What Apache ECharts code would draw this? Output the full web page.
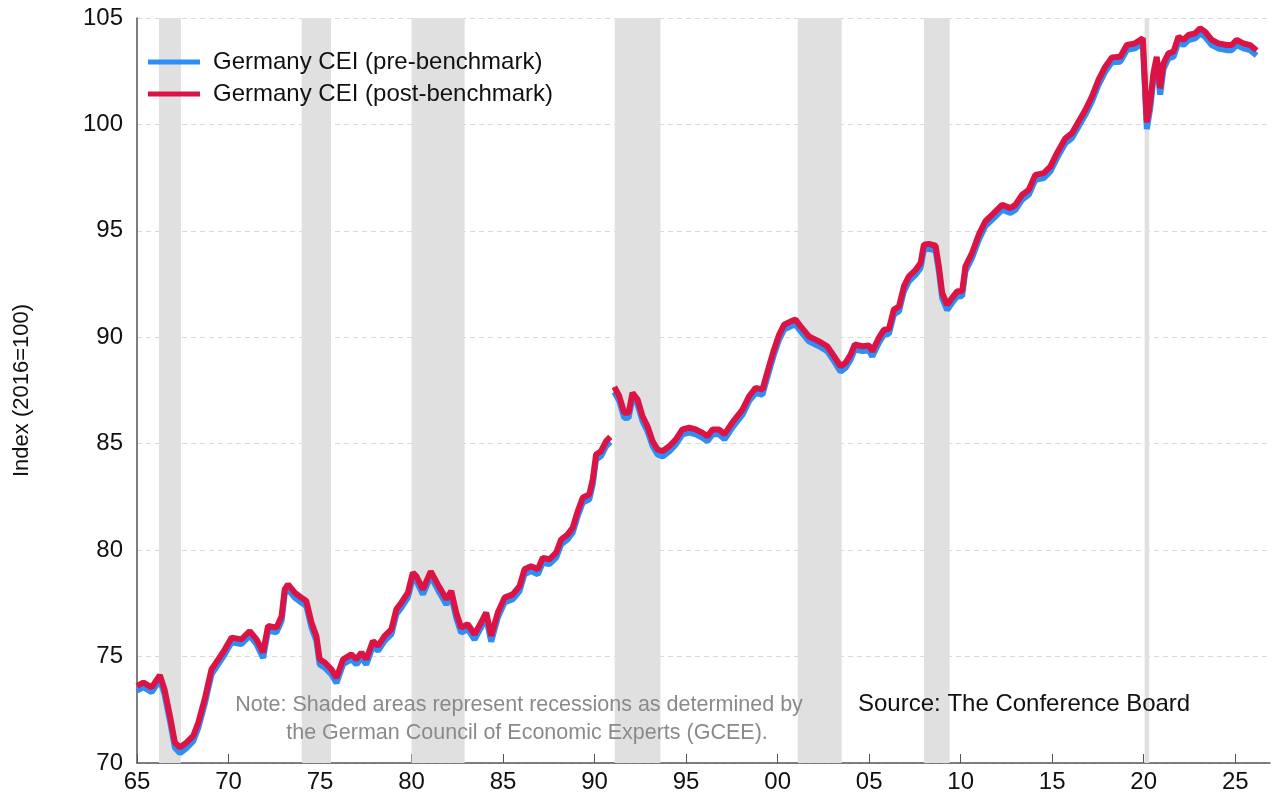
<!DOCTYPE html>
<html>
<head>
<meta charset="utf-8">
<script src="https://cdn.jsdelivr.net/npm/echarts@6/dist/echarts.min.js"></script>
<style>
  html, body { margin: 0; padding: 0; background: #fff; }
  #chart { width: 1272px; height: 804px; }
</style>
</head>
<body>
<div id="chart"></div>
<script>
// time points (decimal years)
var dates = [
  1965.00, 1965.35, 1965.80, 1966.25, 1966.50, 1966.80, 1967.07, 1967.35, 1967.70, 1968.07,
  1968.35, 1968.70, 1969.07, 1969.44, 1969.80, 1970.17, 1970.70, 1971.16, 1971.53, 1971.89,
  1972.16, 1972.62, 1972.90, 1973.07, 1973.25, 1973.62, 1973.98, 1974.25, 1974.53, 1974.80,
  1974.98, 1975.26, 1975.62, 1975.90, 1976.26, 1976.71, 1976.99, 1977.26, 1977.53, 1977.89,
  1978.17, 1978.53, 1978.90, 1979.17, 1979.44, 1979.80, 1980.07, 1980.26, 1980.62, 1981.05,
  1981.53, 1981.90, 1982.17, 1982.44, 1982.71, 1983.07, 1983.44, 1983.80, 1984.08, 1984.35,
  1984.71, 1985.08, 1985.53, 1985.90, 1986.17, 1986.53, 1986.90, 1987.17, 1987.53, 1987.90,
  1988.17, 1988.53, 1988.80, 1989.08, 1989.35, 1989.71, 1989.90, 1990.08, 1990.35, 1990.63,
  1990.86, 1990.97, 1991.08, 1991.35, 1991.62, 1991.86, 1992.07, 1992.35, 1992.62, 1992.89,
  1993.17, 1993.44, 1993.71, 1994.08, 1994.44, 1994.80, 1995.17, 1995.53, 1995.90, 1996.17,
  1996.44, 1996.80, 1997.10, 1997.53, 1998.08, 1998.44, 1998.80, 1999.17, 1999.53, 1999.80,
  2000.08, 2000.35, 2000.72, 2000.98, 2001.26, 2001.71, 2002.26, 2002.71, 2003.08, 2003.44,
  2003.71, 2003.99, 2004.22, 2004.62, 2004.99, 2005.17, 2005.53, 2005.81, 2006.08, 2006.35,
  2006.63, 2006.90, 2007.17, 2007.54, 2007.81, 2007.99, 2008.26, 2008.63, 2008.81, 2008.99,
  2009.26, 2009.53, 2009.81, 2010.08, 2010.26, 2010.62, 2010.99, 2011.35, 2011.81, 2012.26,
  2012.72, 2012.99, 2013.35, 2013.72, 2014.08, 2014.54, 2014.90, 2015.26, 2015.72, 2016.08,
  2016.44, 2016.81, 2017.17, 2017.53, 2017.90, 2018.26, 2018.72, 2019.08, 2019.53, 2019.95,
  2020.17, 2020.35, 2020.53, 2020.71, 2020.90, 2021.08, 2021.35, 2021.63, 2021.90, 2022.17,
  2022.45, 2022.81, 2023.08, 2023.35, 2023.72, 2024.08, 2024.54, 2024.81, 2025.08, 2025.45,
  2025.81, 2026.17
];

// Germany CEI (post-benchmark)
var postBench = [
  73.62, 73.78, 73.55, 74.12, 73.47, 72.20, 70.96, 70.73, 70.96, 71.27,
  71.90, 73.00, 74.40, 74.87, 75.34, 75.89, 75.81, 76.20, 75.81, 75.19,
  76.44, 76.36, 76.90, 78.16, 78.39, 78.00, 77.77, 77.61, 76.60, 75.97,
  74.87, 74.72, 74.40, 74.01, 74.87, 75.10, 74.87, 75.19, 74.87, 75.73,
  75.50, 75.97, 76.28, 77.22, 77.53, 78.00, 78.94, 78.78, 78.16, 79.00,
  78.24, 77.69, 78.08, 77.06, 76.36, 76.52, 76.05, 76.60, 77.06, 75.97,
  77.06, 77.77, 77.92, 78.31, 79.10, 79.25, 79.10, 79.64, 79.57, 79.88,
  80.50, 80.74, 81.05, 81.83, 82.46, 82.62, 83.32, 84.49, 84.65, 85.12,
  85.32, null, 87.67, 87.23, 86.45, 86.45, 87.39, 87.07, 86.29, 85.82,
  85.12, 84.73, 84.65, 84.88, 85.20, 85.67, 85.75, 85.67, 85.51, 85.35,
  85.67, 85.67, 85.45, 86.00, 86.60, 87.23, 87.62, 87.54, 88.64, 89.42,
  90.12, 90.59, 90.75, 90.83, 90.51, 90.04, 89.81, 89.58, 89.11, 88.64,
  88.80, 89.19, 89.66, 89.58, 89.61, 89.34, 89.97, 90.36, 90.39, 91.30,
  91.45, 92.39, 92.86, 93.17, 93.49, 94.35, 94.39, 94.30, 93.33, 92.08,
  91.53, 91.85, 92.16, 92.16, 93.33, 93.96, 94.82, 95.45, 95.83, 96.22,
  96.07, 96.22, 96.69, 96.93, 97.63, 97.71, 98.02, 98.65, 99.35, 99.59,
  100.13, 100.68, 101.31, 102.09, 102.71, 103.15, 103.18, 103.73, 103.81, 104.05,
  100.10, 101.00, 102.40, 103.18, 101.70, 102.87, 103.34, 103.42, 104.12, 103.97,
  104.20, 104.28, 104.52, 104.36, 103.97, 103.81, 103.73, 103.73, 103.97, 103.81,
  103.73, 103.47
];

// Germany CEI (pre-benchmark)
var preBench = [
  73.40, 73.56, 73.33, 73.90, 73.25, 71.97, 70.72, 70.46, 70.70, 71.03,
  71.66, 72.77, 74.17, 74.65, 75.12, 75.67, 75.59, 75.98, 75.58, 74.94,
  76.22, 76.14, 76.68, 77.94, 78.16, 77.77, 77.54, 77.38, 76.37, 75.74,
  74.63, 74.48, 74.16, 73.76, 74.64, 74.87, 74.63, 74.96, 74.63, 75.50,
  75.27, 75.74, 76.05, 76.99, 77.30, 77.77, 78.71, 78.55, 77.92, 78.77,
  78.00, 77.45, 77.85, 76.82, 76.12, 76.29, 75.80, 76.37, 76.83, 75.70,
  76.83, 77.54, 77.69, 78.08, 78.87, 79.02, 78.86, 79.41, 79.34, 79.65,
  80.27, 80.51, 80.82, 81.60, 82.23, 82.39, 83.09, 84.26, 84.42, 84.89,
  85.09, null, 87.44, 87.00, 86.21, 86.22, 87.16, 86.84, 86.06, 85.59,
  84.89, 84.49, 84.40, 84.64, 84.97, 85.44, 85.52, 85.44, 85.28, 85.11,
  85.44, 85.44, 85.21, 85.77, 86.37, 87.00, 87.39, 87.30, 88.41, 89.19,
  89.89, 90.36, 90.52, 90.60, 90.28, 89.81, 89.58, 89.35, 88.88, 88.39,
  88.56, 88.96, 89.43, 89.35, 89.38, 89.10, 89.74, 90.13, 90.16, 91.07,
  91.22, 92.16, 92.63, 92.94, 93.26, 94.12, 94.16, 94.07, 93.10, 91.84,
  91.28, 91.61, 91.93, 91.93, 93.10, 93.73, 94.59, 95.22, 95.60, 95.99,
  95.84, 95.99, 96.46, 96.70, 97.40, 97.48, 97.79, 98.42, 99.12, 99.36,
  99.90, 100.45, 101.08, 101.86, 102.48, 102.92, 102.95, 103.50, 103.58, 103.82,
  99.78, 100.72, 102.14, 102.92, 101.40, 102.60, 103.10, 103.18, 103.88, 103.73,
  103.96, 104.04, 104.28, 104.12, 103.73, 103.57, 103.49, 103.49, 103.73, 103.57,
  103.49, 103.24
];

// GCEE recession periods (decimal years)
var recessionStart = [1966.2, 1974.0, 1980.0, 1991.1, 2001.1, 2008.0, 2020.05];
var recessionEnd   = [1967.4, 1975.6, 1982.9, 1993.6, 2003.5, 2009.4, 2020.3];

var yTicks = [70, 75, 80, 85, 90, 95, 100, 105];

var preColor = '#2d8ef7';
var postColor = '#dc1446';
var fontFamily = 'Liberation Sans, Arial, sans-serif';

function pairs(vals) {
  return dates.map(function (t, i) { return [t, vals[i]]; });
}

var recessionAreas = recessionStart.map(function (s, i) {
  return [{ xAxis: s }, { xAxis: recessionEnd[i] }];
});

var myChart = echarts.init(document.getElementById('chart'), null, { renderer: 'canvas' });

var option = {
  backgroundColor: '#ffffff',
  animation: false,
  textStyle: { fontFamily: fontFamily },
  grid: { left: 137, right: 2, top: 18, bottom: 41 },
  legend: {
    left: 148,
    top: 50,
    padding: 0,
    orient: 'vertical',
    itemWidth: 52,
    itemHeight: 5,
    itemGap: 8,
    icon: 'rect',
    textStyle: { fontSize: 24, color: '#111', padding: [0, 0, 0, 8], lineHeight: 24 },
    data: [
      { name: 'Germany CEI (pre-benchmark)', itemStyle: { color: preColor } },
      { name: 'Germany CEI (post-benchmark)', itemStyle: { color: postColor } }
    ]
  },
  xAxis: {
    type: 'value',
    min: 1965,
    max: 2026.9,
    interval: 5,
    axisLine: { show: true, onZero: false, lineStyle: { color: '#555', width: 1.5 } },
    axisTick: { show: true, inside: true, length: 9, lineStyle: { color: '#555', width: 1 } },
    splitLine: { show: false },
    axisLabel: {
      fontSize: 24,
      color: '#111',
      margin: 7,
      showMaxLabel: false,
      formatter: function (v) {
        if (Math.abs(v - Math.round(v)) > 1e-6 || Math.round(v) % 5 !== 0) return '';
        var yy = Math.round(v) % 100;
        return (yy < 10 ? '0' : '') + yy;
      }
    }
  },
  yAxis: {
    type: 'value',
    min: 70,
    max: 105,
    interval: 5,
    name: 'Index (2016=100)',
    nameLocation: 'middle',
    nameGap: 104,
    nameTextStyle: { fontSize: 22, color: '#111' },
    axisLine: { show: true, lineStyle: { color: '#555', width: 1.5 } },
    axisTick: { show: false },
    axisLabel: {
      fontSize: 24,
      color: '#111',
      margin: 14,
      formatter: function (v) { return yTicks.indexOf(v) >= 0 ? String(v) : ''; }
    },
    splitLine: { show: true, lineStyle: { color: '#d9d9d9', type: [5, 4], width: 1 } }
  },
  graphic: [
    {
      type: 'text',
      x: 519,
      y: 694,
      z: 100,
      style: {
        text: 'Note: Shaded areas represent recessions as determined by',
        fontSize: 21.5,
        fill: '#8a8a8a',
        align: 'center',
        fontFamily: fontFamily
      }
    },
    {
      type: 'text',
      x: 527,
      y: 722,
      z: 100,
      style: {
        text: 'the German Council of Economic Experts (GCEE).',
        fontSize: 21.5,
        fill: '#8a8a8a',
        align: 'center',
        fontFamily: fontFamily
      }
    },
    {
      type: 'text',
      left: 858,
      top: 692,
      z: 100,
      style: {
        text: 'Source: The Conference Board',
        fontSize: 24,
        fill: '#111',
        fontFamily: fontFamily
      }
    }
  ],
  series: [
    {
      name: 'Germany CEI (pre-benchmark)',
      type: 'line',
      data: pairs(preBench),
      showSymbol: false,
      symbol: 'none',
      connectNulls: false,
      lineStyle: { color: preColor, width: 6 },
      itemStyle: { color: preColor },
      z: 3,
      markArea: {
        silent: true,
        itemStyle: { color: '#e0e0e0' },
        data: recessionAreas
      }
    },
    {
      name: 'Germany CEI (post-benchmark)',
      type: 'line',
      data: pairs(postBench),
      showSymbol: false,
      symbol: 'none',
      connectNulls: false,
      lineStyle: { color: postColor, width: 6 },
      itemStyle: { color: postColor },
      z: 4
    }
  ]
};

myChart.setOption(option);
</script>
</body>
</html>
